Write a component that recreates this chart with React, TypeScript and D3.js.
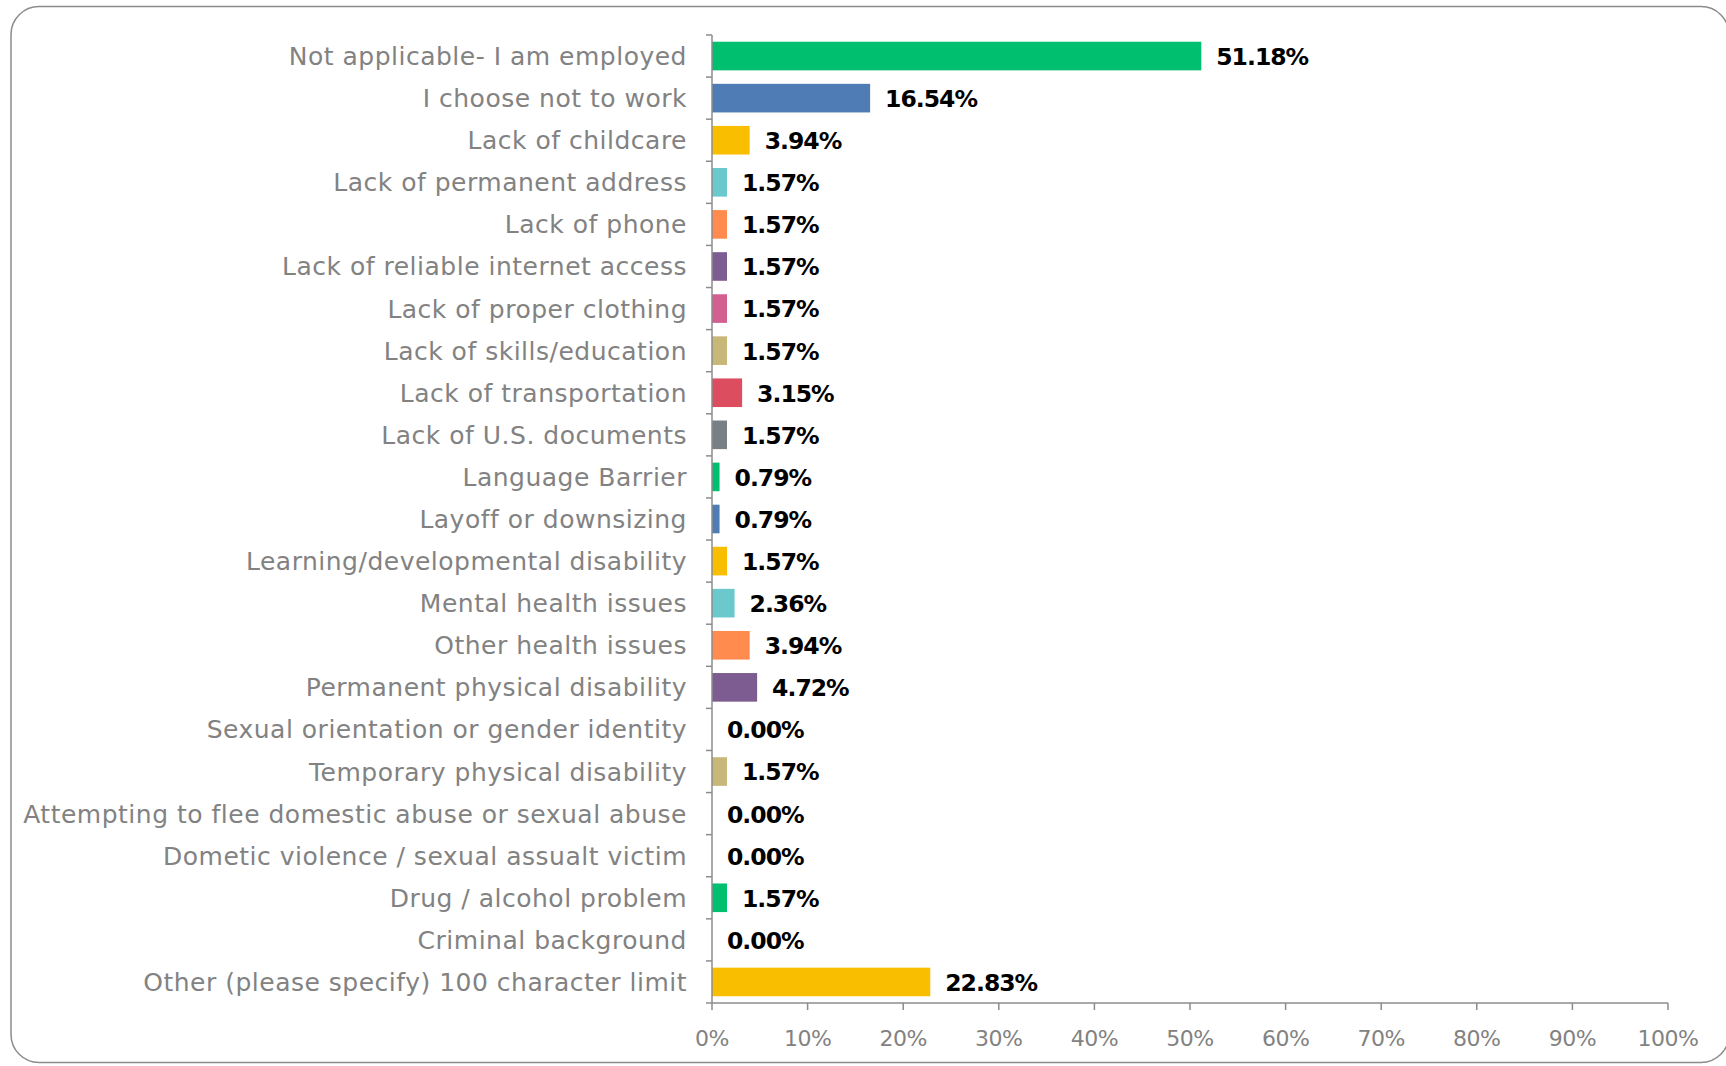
import React from "react";
import * as d3 from "d3";

const categories = [
  "Not applicable- I am employed",
  "I choose not to work",
  "Lack of childcare",
  "Lack of permanent address",
  "Lack of phone",
  "Lack of reliable internet access",
  "Lack of proper clothing",
  "Lack of skills/education",
  "Lack of transportation",
  "Lack of U.S. documents",
  "Language Barrier",
  "Layoff or downsizing",
  "Learning/developmental disability",
  "Mental health issues",
  "Other health issues",
  "Permanent physical disability",
  "Sexual orientation or gender identity",
  "Temporary physical disability",
  "Attempting to flee domestic abuse or sexual abuse",
  "Dometic violence / sexual assualt victim",
  "Drug / alcohol problem",
  "Criminal background",
  "Other (please specify) 100 character limit",
];

const values = [
  51.18, 16.54, 3.94, 1.57, 1.57, 1.57, 1.57, 1.57, 3.15, 1.57, 0.79, 0.79,
  1.57, 2.36, 3.94, 4.72, 0.0, 1.57, 0.0, 0.0, 1.57, 0.0, 22.83,
];

const palette = [
  "#00BF6F", "#507CB6", "#F9BE00", "#6BC8CD", "#FF8B4F",
  "#7D5D91", "#D25F90", "#C7B879", "#DC4E5F", "#768086",
];

const xTicks = [0, 10, 20, 30, 40, 50, 60, 70, 80, 90, 100];

const W = 1726;
const H = 1066;
const LEFT = 712;
const RIGHT = 1668;
const TOP = 35;
const BOTTOM = 1003;

export default function App() {
  const x = d3.scaleLinear().domain([0, 100]).range([LEFT, RIGHT]);
  const y = d3
    .scaleBand<string>()
    .domain(categories)
    .range([TOP, BOTTOM])
    .paddingInner(0.32)
    .paddingOuter(0.16);
  const bounds = d3.range(categories.length + 1).map((i) => TOP + (i * (BOTTOM - TOP)) / categories.length);
  const axisColor = "#8C8C8C";
  const labelColor = "#828282";
  const font = "'DejaVu Sans', sans-serif";

  return (
    <div style={{ position: "absolute", left: 0, top: 0 }}>
      <svg width={W} height={H} style={{ display: "block" }}>
        <rect x={0} y={0} width={W} height={H} fill="#fff" />
        <rect
          x={11}
          y={6.5}
          width={1718}
          height={1056}
          rx={28}
          ry={28}
          fill="none"
          stroke="#8C8C8C"
          strokeWidth={1.5}
        />
        {categories.map((c, i) => (
          <rect
            key={c}
            x={x(0)}
            y={y(c)}
            width={x(values[i]) - x(0)}
            height={y.bandwidth()}
            fill={palette[i % palette.length]}
          />
        ))}
        {categories.map((c, i) => (
          <text
            key={c + "v"}
            x={x(values[i]) + 15}
            y={(y(c) as number) + y.bandwidth() / 2}
            dy="0.38em"
            fontFamily={font}
            fontWeight="bold"
            fontSize={23.5}
            fill="#000"
            letterSpacing={-1}
          >
            {values[i].toFixed(2) + "%"}
          </text>
        ))}
        {categories.map((c) => (
          <text
            key={c + "l"}
            x={LEFT - 25}
            y={(y(c) as number) + y.bandwidth() / 2}
            dy="0.36em"
            textAnchor="end"
            fontFamily={font}
            fontSize={25}
            fill={labelColor}
            letterSpacing={0.5}
          >
            {c}
          </text>
        ))}
        <line x1={LEFT} x2={LEFT} y1={TOP} y2={BOTTOM} stroke={axisColor} strokeWidth={1.5} />
        {bounds.map((b, i) => (
          <line key={"yt" + i} x1={LEFT - 6} x2={LEFT} y1={b} y2={b} stroke={axisColor} strokeWidth={1.5} />
        ))}
        <line x1={LEFT} x2={RIGHT} y1={BOTTOM} y2={BOTTOM} stroke={axisColor} strokeWidth={1.5} />
        {xTicks.map((t) => (
          <g key={"xt" + t}>
            <line x1={x(t)} x2={x(t)} y1={BOTTOM} y2={BOTTOM + 7} stroke={axisColor} strokeWidth={1.5} />
            <text
              x={x(t)}
              y={1038}
              dy="0.36em"
              textAnchor="middle"
              fontFamily={font}
              fontSize={22}
              fill={labelColor}
              letterSpacing={-0.5}
            >
              {t + "%"}
            </text>
          </g>
        ))}
      </svg>
    </div>
  );
}
